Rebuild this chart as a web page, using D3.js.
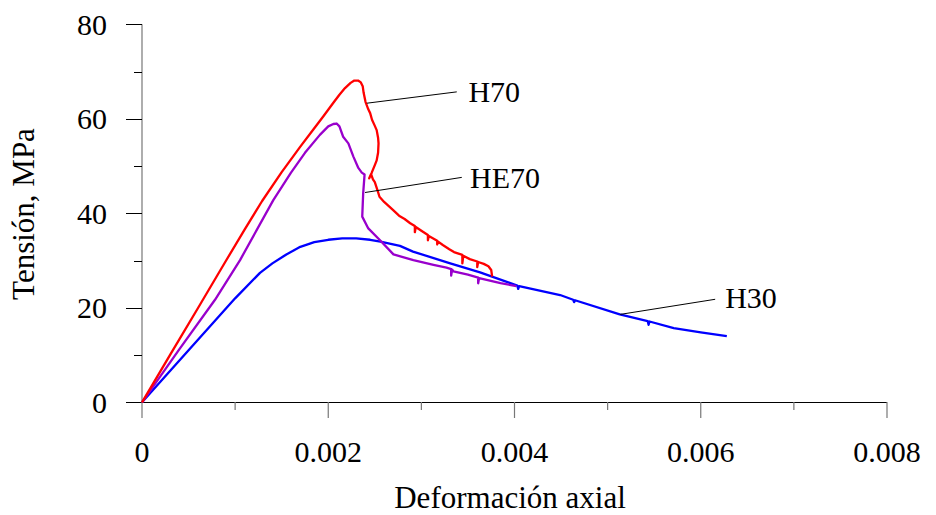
<!DOCTYPE html>
<html><head><meta charset="utf-8">
<script src="https://cdn.jsdelivr.net/npm/d3@7"></script>
<style>
body{margin:0;background:#fff;}
</style></head>
<body><svg id="c" width="936" height="515" font-family="'Liberation Serif', 'Times New Roman', Times, 'DejaVu Serif', serif"></svg>
<script>
// strain values in units of 1e-3, stress in MPa
const h70 = [[0,0],[0.3,10.0],[0.6,19.9],[0.9,29.9],[1.1,36.5],[1.29,42.6],[1.5,48.7],[1.7,54.1],[1.85,58.0],[1.95,60.6],[2.055,63.4],[2.12,65.1],[2.18,66.5],[2.24,67.6],[2.28,68.1],[2.32,68.1],[2.35,67.7],[2.37,66.9],[2.38,65.5],[2.40,63.6],[2.43,62.0],[2.45,61.2],[2.47,59.8],[2.50,58.5],[2.52,57.6],[2.535,56.0],[2.54,54.8],[2.535,52.8],[2.52,51.2],[2.50,50.2],[2.467,48.6],[2.44,47.4],[2.46,48.3],[2.48,47.2],[2.50,46.6],[2.53,44.8],[2.55,43.5],[2.60,42.4],[2.65,41.5],[2.70,40.6],[2.76,39.5],[2.82,38.8],[2.88,37.9],[2.93,37.3],[2.93,36.0],[2.94,37.1],[3.0,36.3],[3.07,35.4],[3.07,34.3],[3.08,35.2],[3.17,34.2],[3.17,33.4],[3.18,34.0],[3.23,33.3],[3.30,32.4],[3.35,31.8],[3.44,31.2],[3.44,29.4],[3.45,31.0],[3.52,30.3],[3.60,29.8],[3.60,28.6],[3.61,29.7],[3.67,29.3],[3.72,28.8],[3.75,28.0],[3.76,26.6]];
const he70 = [[0,0],[0.4,11.2],[0.784,21.7],[1.053,30.1],[1.41,42.8],[1.6,48.6],[1.75,52.8],[1.91,56.6],[2.0,58.4],[2.055,58.9],[2.09,59.0],[2.12,58.4],[2.16,56.2],[2.216,54.8],[2.27,52.0],[2.323,49.6],[2.36,48.6],[2.39,48.2],[2.375,44.2],[2.365,39.3],[2.43,36.8],[2.556,34.3],[2.70,31.3],[2.914,30.1],[3.13,29.1],[3.27,28.5],[3.32,28.2],[3.32,26.8],[3.33,28.1],[3.344,27.7],[3.50,27.0],[3.61,26.4],[3.61,25.2],[3.62,26.3],[3.85,25.2],[4.02,24.6]];
const h30 = [[0,0],[0.5,11.0],[1.0,22.0],[1.267,27.4],[1.4,29.4],[1.55,31.3],[1.7,32.9],[1.85,33.9],[2.0,34.4],[2.15,34.7],[2.3,34.7],[2.45,34.4],[2.56,34.0],[2.77,33.1],[2.91,31.9],[3.31,29.4],[3.63,27.5],[4.03,24.7],[4.04,24.0],[4.05,24.6],[4.49,22.7],[4.63,21.7],[4.64,21.2],[4.65,21.6],[5.13,18.6],[5.43,17.2],[5.44,16.4],[5.45,17.1],[5.71,15.7],[6.0,14.8],[6.28,14.0]];
const seriesNames = ["H70","HE70","H30"];
const seriesColors = ["#ff0000","#9900cc","#0000ff"];
const xTicks = [0,0.002,0.004,0.006,0.008];
const xMinor = [0.001,0.003,0.005,0.007];
const yTicks = [0,20,40,60,80];
const yMinor = [10,30,50,70];
// annotation: [label, lineStart strain(1e-3), stress, lineEnd strain, stress, text strain, text stress]
const annotations = [["H70",2.414,63.3,3.38,65.7,3.505,63.6],["HE70",2.395,44.4,3.434,47.6,3.523,45.3],["H30",5.134,18.6,6.155,21.8,6.262,19.9]];

const svg = d3.select("#c");
const x = d3.scaleLinear().domain([0,0.008]).range([142,887]);
const y = d3.scaleLinear().domain([0,80]).range([402.3,24.3]);

// y axis
const gy = svg.append("g").attr("transform","translate(142,0)");
gy.append("line").attr("x1",0).attr("x2",0).attr("y1",y(80)).attr("y2",y(0)).attr("stroke","#777").attr("stroke-width",1.2);
gy.selectAll(".ymaj").data(yTicks).join("line").attr("x1",-16).attr("x2",0).attr("y1",d=>Math.round(y(d))+0.5).attr("y2",d=>Math.round(y(d))+0.5).attr("stroke","#000");
gy.selectAll(".ymin").data(yMinor).join("line").attr("x1",-8).attr("x2",0).attr("y1",d=>Math.round(y(d))+0.5).attr("y2",d=>Math.round(y(d))+0.5).attr("stroke","#000");
gy.selectAll(".ylab").data(yTicks).join("text").attr("x",-35).attr("y",d=>y(d)+10.5).attr("text-anchor","end").attr("font-size",30).text(d=>d3.format("d")(d));

// x axis
const gx = svg.append("g");
gx.append("line").attr("x1",x(0)).attr("x2",x(0.008)).attr("y1",402.5).attr("y2",402.5).attr("stroke","#000");
gx.selectAll(".xmaj").data(xTicks).join("line").attr("x1",d=>x(d)).attr("x2",d=>x(d)).attr("y1",402).attr("y2",418).attr("stroke","#777").attr("stroke-width",1.2);
gx.selectAll(".xmin").data(xMinor).join("line").attr("x1",d=>x(d)).attr("x2",d=>x(d)).attr("y1",402).attr("y2",410).attr("stroke","#777").attr("stroke-width",1.2);
gx.selectAll(".xlab").data(xTicks).join("text").attr("x",d=>x(d)).attr("y",462).attr("text-anchor","middle").attr("font-size",30).text(d=>d===0?"0":d3.format(".3f")(d));

// titles
svg.append("text").attr("x",510).attr("y",508).attr("text-anchor","middle").attr("font-size",31).text("Deformación axial");
svg.append("text").attr("transform","translate(34,214) rotate(-90)").attr("text-anchor","middle").attr("font-size",31).text("Tensión, MPa");

// series
const line = d3.line().x(d=>x(d[0]/1000)).y(d=>y(d[1]));
const allSeries = [h70,he70,h30];
[2,1,0].forEach(i=>{
  svg.append("path").datum(allSeries[i]).attr("d",line).attr("fill","none").attr("stroke",seriesColors[i]).attr("stroke-width",2.3).attr("stroke-linejoin","round");
});

// annotations
annotations.forEach(a=>{
  svg.append("line").attr("x1",x(a[1]/1000)).attr("y1",y(a[2])).attr("x2",x(a[3]/1000)).attr("y2",y(a[4])).attr("stroke","#000").attr("stroke-width",1);
  svg.append("text").attr("x",x(a[5]/1000)).attr("y",y(a[6])).attr("font-size",30).text(a[0]);
});
</script></body></html>
